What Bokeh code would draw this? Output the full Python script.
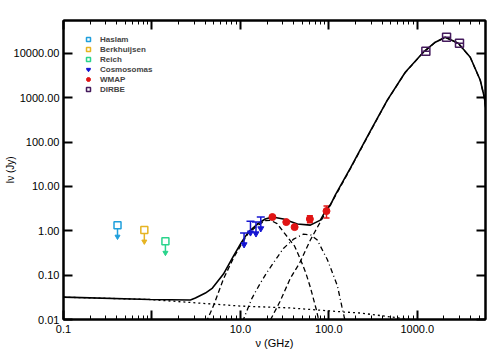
from bokeh.plotting import figure
from bokeh.models import (Range1d, LogAxis, FixedTicker, CustomJSTickFormatter, Legend,
                          LegendItem, Whisker, ColumnDataSource, TeeHead)
from bokeh.embed import file_html
from bokeh.resources import INLINE

# ---------------- data ----------------
# model components, frequency in GHz, intensity in Jy
total_nu = [0.1, 0.96, 2.72, 3.10, 4.02, 4.83, 6.43, 8.34, 10.3, 12.3, 15.6, 19.1, 23.0, 30.6,
            44.1, 61.8, 80.2, 91.3, 104, 118, 175, 294, 458, 731, 1169, 1597, 2070, 2904,
            3970, 5150, 5720, 6500]
total_I = [0.0319, 0.0282, 0.0275, 0.0305, 0.0395, 0.051, 0.106, 0.269, 0.556, 0.935, 1.42,
           1.84, 2.04, 1.84, 1.42, 1.34, 1.74, 2.78, 3.79, 6.37, 25.8, 176, 879, 3750, 10600,
           17800, 23100, 16900, 8170, 2480, 1025, 150]

ff_nu = [0.1, 0.96, 2.72, 10.0, 36.7, 146, 227, 458, 834, 1800]
ff_I = [0.0319, 0.0282, 0.0242, 0.0201, 0.0182, 0.0148, 0.0140, 0.0117, 0.0100, 0.0085]

sd1_nu = [3.5, 4.24, 5.0, 6.43, 8.34, 10.3, 12.3, 15.6, 19.1, 22.0, 26.0, 30.6, 34.5, 41.0,
          47.6, 55.0, 61.8, 72.0, 76.0, 80.0]
sd1_I = [0.004, 0.010, 0.0212, 0.0817, 0.243, 0.50, 0.89, 1.30, 1.70, 1.72, 1.45, 0.95, 0.70,
         0.45, 0.23, 0.111, 0.053, 0.017, 0.0105, 0.007]

sd2_nu = [9.5, 10.8, 13.5, 16.8, 20.2, 26.2, 30.6, 40, 51.5, 63, 74, 85, 96, 110, 125, 140,
          150, 160]
sd2_I = [0.005, 0.010, 0.030, 0.066, 0.12, 0.256, 0.40, 0.65, 0.84, 0.80, 0.62, 0.36, 0.225,
         0.112, 0.057, 0.020, 0.0108, 0.007]

dust_nu = [18, 21.8, 28, 36.7, 47, 61.8, 75, 91.3, 118, 175, 294, 458, 731, 1169, 1597, 2070,
           2904, 3970, 5150, 5720, 6500]
dust_I = [0.0047, 0.0097, 0.0254, 0.085, 0.192, 0.62, 1.25, 2.5, 6.0, 25, 172, 870, 3700,
          10500, 17700, 23000, 16800, 8100, 2450, 1010, 150]

# measurements
haslam_nu, haslam_I = [0.408], [1.34]
berk_nu, berk_I = [0.82], [1.04]
reich_nu, reich_I = [1.42], [0.58]
cosmo_nu = [11, 13, 15, 17]
cosmo_I = [0.89, 1.65, 1.57, 2.04]
wmap_nu = [23, 33, 41, 61, 94]
wmap_I = [2.04, 1.57, 1.21, 1.84, 2.78]
wmap_err = [0.08, 0.07, 0.07, 0.33, 0.85]
dirbe_nu = [1249, 2141, 2998]
dirbe_I = [11100, 23100, 16900]

x_ticks = [0.1, 1, 10, 100, 1000]
y_ticks = [0.01, 0.1, 1, 10, 100, 1000, 10000]

# ---------------- styles ----------------
FONT = "Liberation Sans"
C_HASLAM = "#1f9fdc"
C_BERK = "#e6b422"
C_REICH = "#2ad48c"
C_COSMO = "#1414d2"
C_WMAP = "#e01414"
C_DIRBE = "#441a5c"
ARROW = 10 ** (-11.5 / 44.4)   # arrow length of upper limits (~11 px)

p = figure(width=496, height=352, x_axis_type="log", y_axis_type="log",
           x_range=Range1d(0.1, 5900), y_range=Range1d(0.01, 55000),
           output_backend="svg", toolbar_location=None,
           min_border_left=63, min_border_right=11, min_border_top=20, min_border_bottom=33)
p.xgrid.visible = False
p.ygrid.visible = False
p.outline_line_color = "black"
p.outline_line_width = 2
p.background_fill_color = "white"
p.border_fill_color = "white"

minor = [m * 10 ** e for e in range(-1, 4) for m in range(2, 10)]
xt = FixedTicker(ticks=x_ticks, minor_ticks=minor)
yt = FixedTicker(ticks=y_ticks, minor_ticks=[])
blank = CustomJSTickFormatter(code="return '';")

xfmt = CustomJSTickFormatter(code="return Math.abs(tick - 1) < 1e-9 ? '' : tick.toFixed(1);")
yfmt = CustomJSTickFormatter(code="return tick.toFixed(2);")


def style_axis(ax, ticker, fmt, standoff):
    ax.ticker = ticker
    ax.formatter = fmt
    ax.axis_line_width = 2
    ax.major_tick_in = 9
    ax.major_tick_out = 0
    ax.minor_tick_in = 4
    ax.minor_tick_out = 0
    ax.major_tick_line_width = 2
    ax.minor_tick_line_width = 1
    ax.major_label_text_font = FONT
    ax.major_label_text_font_size = "11px"
    ax.major_label_text_color = "black"
    ax.major_label_standoff = standoff


style_axis(p.xaxis[0], xt, xfmt, 5)
style_axis(p.yaxis[0], yt, yfmt, 4)
p.xaxis[0].axis_label = "ν (GHz)"
p.xaxis[0].axis_label_text_font = FONT
p.xaxis[0].axis_label_text_font_size = "11px"
p.xaxis[0].axis_label_text_font_style = "normal"
p.xaxis[0].axis_label_text_color = "black"
p.xaxis[0].axis_label_standoff = 1

p.yaxis[0].axis_label = "Iν (Jy)"
p.yaxis[0].axis_label_text_font = FONT
p.yaxis[0].axis_label_text_font_size = "10px"
p.yaxis[0].axis_label_text_font_style = "normal"
p.yaxis[0].axis_label_text_color = "black"
p.yaxis[0].axis_label_standoff = -5

top = LogAxis()
right = LogAxis()
style_axis(top, FixedTicker(ticks=x_ticks, minor_ticks=minor), blank, 0)
style_axis(right, FixedTicker(ticks=y_ticks, minor_ticks=[]), blank, 0)
p.add_layout(top, "above")
p.add_layout(right, "right")

# ---------------- model curves ----------------
p.line(ff_nu, ff_I, line_color="black", line_width=1.3, line_dash="2 3")
p.line(sd1_nu, sd1_I, line_color="black", line_width=1.3, line_dash="5 3")
p.line(sd2_nu, sd2_I, line_color="black", line_width=1.3, line_dash="5 3 1 3")
p.line(dust_nu, dust_I, line_color="black", line_width=1.3, line_dash="5 3")
p.line(total_nu, total_I, line_color="black", line_width=1.6)


# ---------------- measurements ----------------
def upper_limit_square(nu, I, color):
    lo = [v * ARROW for v in I]
    p.segment(nu, I, nu, lo, line_color=color, line_width=1.5)
    p.scatter(nu, lo, marker="inverted_triangle", size=5, fill_color=color,
              line_color=color)
    return p.scatter(nu, I, marker="square", size=7, fill_color="white",
                     line_color=color, line_width=1.5)


r_has = upper_limit_square(haslam_nu, haslam_I, C_HASLAM)
r_ber = upper_limit_square(berk_nu, berk_I, C_BERK)
r_rei = upper_limit_square(reich_nu, reich_I, C_REICH)

c_lo = [v * ARROW for v in cosmo_I]
p.segment(cosmo_nu, cosmo_I, cosmo_nu, c_lo, line_color=C_COSMO, line_width=1.5)
r_cos_cap = p.scatter(cosmo_nu, cosmo_I, marker="dash", size=8, line_color=C_COSMO,
                      line_width=1.5)
r_cos_arr = p.scatter(cosmo_nu, c_lo, marker="inverted_triangle", size=6,
                      fill_color=C_COSMO, line_color=C_COSMO)

wsrc = ColumnDataSource(dict(nu=wmap_nu, I=wmap_I,
                             lo=[v - e for v, e in zip(wmap_I, wmap_err)],
                             hi=[v + e for v, e in zip(wmap_I, wmap_err)]))
p.add_layout(Whisker(base="nu", lower="lo", upper="hi", source=wsrc, dimension="height",
                     line_color=C_WMAP, line_width=1.5,
                     upper_head=TeeHead(size=6, line_color=C_WMAP, line_width=1.5),
                     lower_head=TeeHead(size=6, line_color=C_WMAP, line_width=1.5)))
r_wmap = p.scatter("nu", "I", source=wsrc, marker="circle", size=7, fill_color=C_WMAP,
                   line_color=C_WMAP)

p.scatter(dirbe_nu, dirbe_I, marker="dash", size=7, line_color=C_DIRBE, line_width=1.5)
r_dir = p.scatter(dirbe_nu, dirbe_I, marker="square", size=8, fill_color=None,
                  line_color=C_DIRBE, line_width=1.5)

legend = Legend(items=[
    LegendItem(label="Haslam", renderers=[r_has]),
    LegendItem(label="Berkhuijsen", renderers=[r_ber]),
    LegendItem(label="Reich", renderers=[r_rei]),
    LegendItem(label="Cosmosomas", renderers=[r_cos_cap, r_cos_arr]),
    LegendItem(label="WMAP", renderers=[r_wmap]),
    LegendItem(label="DIRBE", renderers=[r_dir]),
], location="top_left", margin=14, padding=0, spacing=0, glyph_height=10,
    glyph_width=22, label_standoff=1, label_height=10,
    label_text_font=FONT, label_text_font_style="bold", label_text_font_size="8px",
    label_text_line_height=1.0,
    background_fill_alpha=0, border_line_color=None)
p.add_layout(legend)

open("out.html", "w").write(file_html(p, INLINE))
